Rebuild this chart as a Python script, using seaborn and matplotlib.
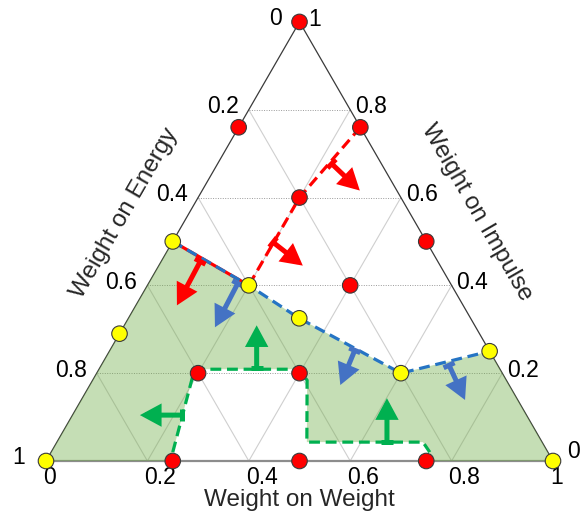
import numpy as np
import pandas as pd
import matplotlib
matplotlib.use("Agg")
import matplotlib.pyplot as plt
from matplotlib.patches import FancyArrowPatch
import seaborn as sns

# Ternary points are given as (weight on weight, weight on impulse);
# weight on energy = 1 - weight - impulse.
red_w = [0.0, 0.0, 0.24, 0.2, 0.5, 0.4, 0.2, 0.4, 0.25, 0.5, 0.75]
red_i = [1.0, 0.76, 0.76, 0.6, 0.5, 0.4, 0.2, 0.2, 0.0, 0.0, 0.0]
yellow_w = [0.0, 0.0, 0.0, 0.2, 0.337, 0.6, 0.75, 1.0]
yellow_i = [0.0, 0.29, 0.5, 0.4, 0.325, 0.2, 0.25, 0.0]

# Boundaries
blue_w = [0.0, 0.2, 0.337, 0.6, 0.75]
blue_i = [0.5, 0.4, 0.325, 0.2, 0.25]
red_line_w = [0.24, 0.2, 0.2]
red_line_i = [0.76, 0.6, 0.4]
green_w = [0.25, 0.24, 0.194, 0.195, 0.393, 0.423, 0.493, 0.722, 0.747, 0.757]
green_i = [0.0, 0.02, 0.189, 0.209, 0.209, 0.184, 0.043, 0.043, 0.02, 0.0]

# Direction arrows: (start, end) in (weight, impulse)
red_arrows = [((0.225, 0.677), (0.311, 0.616)),
              ((0.199, 0.498), (0.284, 0.445)),
              ((0.077, 0.4545), (0.081, 0.3545))]
blue_arrows = [((0.176, 0.4045), (0.181, 0.3045)),
               ((0.483, 0.252), (0.494, 0.173)),
               ((0.686, 0.218), (0.757, 0.139))]
green_arrows = [((0.310, 0.211), (0.261, 0.309)),
                ((0.216, 0.1045), (0.133, 0.1045)),
                ((0.651, 0.043), (0.601, 0.143))]

ticks = [0.0, 0.2, 0.4, 0.6, 0.8, 1.0]
tick_text = ["0", "0.2", "0.4", "0.6", "0.8", "1"]

RED = "#FF0000"
BLUE_LINE = "#2574C4"
BLUE_ARROW = "#4472C4"
GREEN = "#00B050"
FILL = "#70AD47"
S3 = np.sqrt(3) / 2


def xy(w, i):
    w = np.asarray(w, float)
    i = np.asarray(i, float)
    return w + i / 2, i * S3


sns.set_theme(style="white")
plt.rcParams["font.family"] = ["Liberation Sans", "DejaVu Sans"]
FS = 16.5
FS_TITLE = 17.5

fig = plt.figure(figsize=(5.81, 5.19), dpi=100)
ax = fig.add_axes([0, 0, 1, 1])

# grid
for t in ticks[1:-1]:
    x0, y0 = xy([0, 1 - t], [t, t])
    ax.plot(x0, y0, color="#9A9A9A", lw=0.7, ls=(0, (1, 1.5)), zorder=1)
    x1, y1 = xy([t, t], [0, 1 - t])
    ax.plot(x1, y1, color="#CFCFCF", lw=0.8, zorder=1)
    x2, y2 = xy([1 - t, 0], [0, 1 - t])
    ax.plot(x2, y2, color="#CFCFCF", lw=0.8, zorder=1)

# triangle edges
ex, ey = xy([0, 0], [0, 1])
ax.plot(ex, ey, color="#3A3A3A", lw=0.9, zorder=2)
ex, ey = xy([1, 0], [0, 1])
ax.plot(ex, ey, color="#3A3A3A", lw=0.9, zorder=2)
ex, ey = xy([0, 1], [0, 0])
ax.plot(ex, ey, color="#8C8C8C", lw=1.6, zorder=2)

# shaded region
poly_w = [0.0] + blue_w + [1.0] + green_w[::-1] + [0.0]
poly_i = [0.0] + blue_i + [0.0] + green_i[::-1] + [0.0]
px, py = xy(poly_w, poly_i)
ax.fill(px, py, color=FILL, alpha=0.4, lw=0, zorder=3)

# boundaries
lx, ly = xy(red_line_w, red_line_i)
ax.plot(lx, ly, color=RED, lw=2.3, dashes=(3.4, 1.8), zorder=4)
lx, ly = xy([blue_w[1], blue_w[0]], [blue_i[1], blue_i[0]])
ax.plot(lx, ly, color=RED, lw=2.3, zorder=4)
lx, ly = xy(blue_w, blue_i)
ax.plot(lx, ly, color=BLUE_LINE, lw=2.3, dashes=(3.4, 1.8), zorder=5)
lx, ly = xy(green_w[1:-1], green_i[1:-1])
ax.plot(lx, ly, color=GREEN, lw=2.3, dashes=(3.4, 1.8), zorder=5)


def draw_arrows(arrows, color):
    for (s, e) in arrows:
        sx, sy = xy(*s)
        tx, ty = xy(*e)
        d = np.array([tx - sx, ty - sy])
        d /= np.hypot(*d)
        p = np.array([-d[1], d[0]]) * 6 / 507
        ax.plot([sx - p[0], sx + p[0]], [sy - p[1], sy + p[1]],
                color=color, lw=3.6, solid_capstyle="butt", zorder=6)
        arr = FancyArrowPatch((sx, sy), (tx, ty),
                              arrowstyle="-|>,head_length=0.5,head_width=0.27",
                              mutation_scale=20, color=color, lw=3.6,
                              shrinkA=0, shrinkB=0, zorder=6,
                              joinstyle="miter", capstyle="butt")
        ax.add_patch(arr)


draw_arrows(red_arrows, RED)
draw_arrows(blue_arrows, BLUE_ARROW)
draw_arrows(green_arrows, GREEN)

# points
rx, ry = xy(red_w, red_i)
yx, yy = xy(yellow_w, yellow_i)
pts = pd.DataFrame({"x": np.r_[rx, yx], "y": np.r_[ry, yy],
                    "kind": ["red"] * len(rx) + ["yellow"] * len(yx)})
sns.scatterplot(data=pts, x="x", y="y", hue="kind",
                palette={"red": RED, "yellow": "#FFFF00"},
                s=125, edgecolor="#3A3A3A", linewidth=0.8,
                legend=False, ax=ax, zorder=8)
ax.set_xlim(-46 / 507, 535 / 507)
ax.set_ylim(-58 / 507, 461 / 507)
ax.axis("off")

# tick labels
for t, lab in zip(ticks, tick_text):
    # weight on weight, bottom edge
    bx, by = xy(t, 0)
    ax.annotate(lab, (bx, by), xytext=(-3, -16), textcoords="offset pixels",
                ha="left", va="center", fontsize=FS, color="black")
    # weight on energy, left edge
    lxp, lyp = xy(0, 1 - t)
    off = -10
    if t == 0.0:
        off = -18
    if t == 1.0:
        off = -21
    ax.annotate(lab, (lxp, lyp), xytext=(off, 3), textcoords="offset pixels",
                ha="right", va="center", fontsize=FS, color="black")
    # weight on impulse, right edge
    rxp, ryp = xy(1 - t, t)
    offx, offy = 5, 3
    if t == 1.0:
        offx, offy = 9, 2
    if t == 0.0:
        offx, offy = 14, 9
    ax.annotate(lab, (rxp, ryp), xytext=(offx, offy), textcoords="offset pixels",
                ha="left", va="center", fontsize=FS, color="black")

# axis titles
tx, ty = xy(0, 0.5)
ax.text(tx - 0.866 * 0.11, ty + 0.5 * 0.11, "Weight on Energy", rotation=60,
        rotation_mode="anchor", ha="center", va="center", fontsize=FS_TITLE)
tx, ty = xy(0.5, 0.5)
ax.text(tx + 0.866 * 0.115, ty + 0.5 * 0.115, "Weight on Impulse", rotation=-60,
        rotation_mode="anchor", ha="center", va="center", fontsize=FS_TITLE)
ax.text(0.5, -0.077, "Weight on Weight", ha="center", va="center",
        fontsize=FS_TITLE)

fig.savefig("out.png", dpi=100, facecolor="white")
